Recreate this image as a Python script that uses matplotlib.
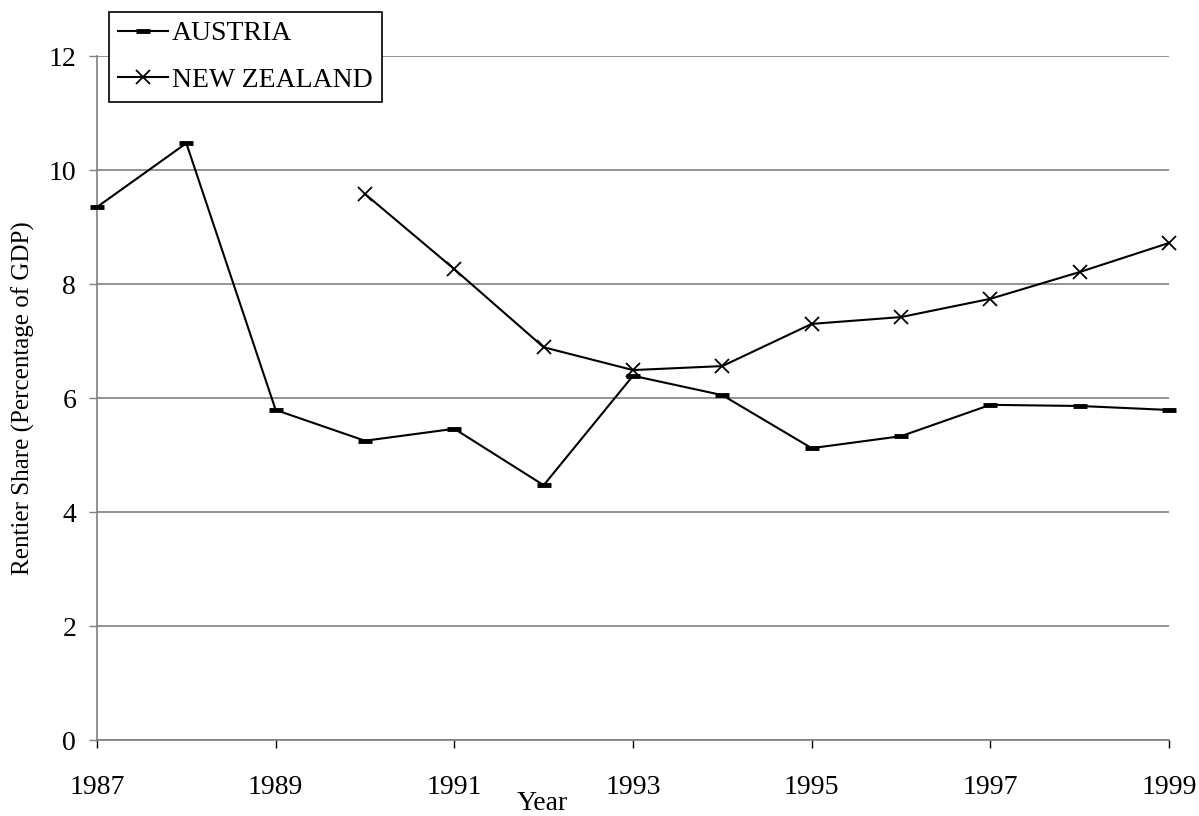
import matplotlib.pyplot as plt
from matplotlib.lines import Line2D

years = [1987, 1988, 1989, 1990, 1991, 1992, 1993, 1994, 1995, 1996, 1997, 1998, 1999]
austria = [9.35, 10.47, 5.79, 5.25, 5.46, 4.47, 6.39, 6.05, 5.12, 5.33, 5.88, 5.86, 5.79]
nz_years = [1990, 1991, 1992, 1993, 1994, 1995, 1996, 1997, 1998, 1999]
new_zealand = [9.58, 8.26, 6.89, 6.49, 6.56, 7.30, 7.42, 7.74, 8.21, 8.72]
xtick_years = [1987, 1989, 1991, 1993, 1995, 1997, 1999]
yticks = [0, 2, 4, 6, 8, 10, 12]

plt.rcParams['font.family'] = ['Liberation Serif', 'DejaVu Serif']
plt.rcParams['font.size'] = 20

fig = plt.figure(figsize=(11.99, 8.16), dpi=100)
ax = fig.add_axes([97 / 1199, 1 - 740 / 816, (1169 - 97) / 1199, (740 - 56) / 816])

ax.plot(years, austria, color='black', lw=1.5, marker='_', markersize=10,
        markeredgewidth=3.5, label='AUSTRIA', clip_on=False, zorder=3)
ax.plot(nz_years, new_zealand, color='black', lw=1.5, marker='x', markersize=10,
        markeredgewidth=1.3, label='NEW ZEALAND', clip_on=False, zorder=3)

ax.set_xlim(1987, 1999)
ax.set_ylim(0, 12)
ax.set_xticks(xtick_years)
ax.set_yticks(yticks)
ax.set_yticklabels([str(v) for v in yticks])
ax.yaxis.grid(True, color='#808080', lw=1.2)
ax.set_axisbelow(True)

for side in ['top', 'right']:
    ax.spines[side].set_visible(False)
for side in ['left', 'bottom']:
    ax.spines[side].set_color('#808080')
    ax.spines[side].set_linewidth(1.2)

ax.tick_params(axis='x', direction='out', length=6, width=1, color='black', pad=19)
ax.tick_params(axis='y', direction='out', length=6, width=1, color='#808080', pad=9)

ax.set_ylabel('Rentier Share (Percentage of GDP)', fontsize=18, labelpad=10)
fig.text(542 / 1199, 1 - 803 / 816, 'Year', ha='center', va='center', fontsize=20)

handles = [
    Line2D([], [], color='black', lw=1.5, marker='_', markersize=10, markeredgewidth=3.5),
    Line2D([], [], color='black', lw=1.5, marker='x', markersize=10, markeredgewidth=1.3),
]
leg = fig.legend(handles, ['AUSTRIA', 'NEW ZEALAND'], loc='upper left',
                 bbox_to_anchor=(109 / 1199, 1 - 12 / 816), borderaxespad=0,
                 frameon=True, fancybox=False, edgecolor='black', framealpha=1,
                 handlelength=1.8, handletextpad=0.15, borderpad=0.32,
                 labelspacing=0.75, fontsize=20)
leg.get_frame().set_linewidth(1.2)

fig.savefig('out.png', dpi=100)
